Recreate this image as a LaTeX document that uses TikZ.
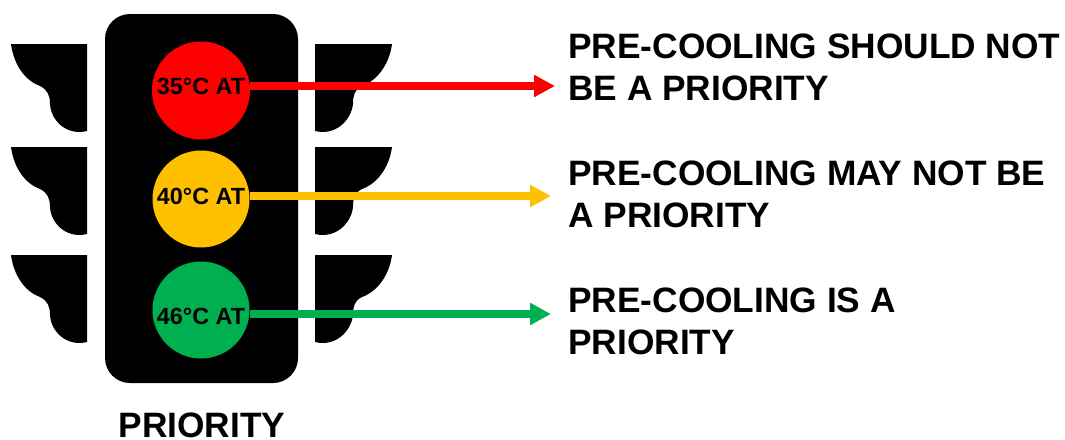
\documentclass[tikz,border=0pt]{standalone}
\usepackage{fontspec}
\setmainfont{Liberation Sans}
\usetikzlibrary{arrows.meta}
\definecolor{tred}{RGB}{255,0,0}
\definecolor{tyel}{RGB}{255,192,0}
\definecolor{tgrn}{RGB}{0,176,80}
\tikzset{
  lampc/.style={circle,minimum size=#1,inner sep=0pt},
  lamplabel/.style={font=\bfseries\fontsize{23.4}{26}\selectfont,text=black,inner sep=0pt},
  msg/.style={font=\bfseries\fontsize{35.3}{42}\selectfont,text=black,anchor=north west,inner sep=0pt,align=left},
  conn/.style={line width=8pt,-{Triangle[length=21pt,width=21pt]}},
}
\begin{document}
\begin{tikzpicture}[x=1pt,y=-1pt]
\useasboundingbox (0,0) rectangle (1065,439);
% wings
\foreach \y in {44,147,255} {
  \begin{scope}[shift={(87,\y)},xscale=-1]
    \fill (0,0) -- (76,0) .. controls (73,22) and (61,37) .. (47,42) .. controls (39,46) and (37,52) .. (37,60) .. controls (36,77) and (20,92) .. (0,87) -- cycle;
  \end{scope}
  \begin{scope}[shift={(315,\y)}]
    \fill (0,0) -- (77,0) .. controls (74,22) and (61,37) .. (47,42) .. controls (39,46) and (38,52) .. (38,60) .. controls (36,77) and (20,92) .. (0,87) -- cycle;
  \end{scope}
}
\node[fill=black,rounded corners=25pt,minimum width=193pt,minimum height=369pt,inner sep=0pt] (body) at (201.5,198.5) {};
\node[lampc=98pt,fill=tred] (r) at (201,90.5) {};
\node[lampc=97pt,fill=tyel] (y) at (201,199) {};
\node[lampc=97pt,fill=tgrn] (g) at (201,310) {};
\node[lamplabel] (lr) at (201,86) {35°C AT};
\node[lamplabel] (ly) at (201,196) {40°C AT};
\node[lamplabel] (lg) at (201,316) {46°C AT};
\coordinate (tr) at (555,86);
\coordinate (ty) at (551,196);
\coordinate (tg) at (551,314);
\draw[conn,tred] (r.east |- tr) -- (tr);
\draw[conn,tyel] (y.east |- ty) -- (ty);
\draw[conn,tgrn] (g.east |- tg) -- (tg);
\node[msg] (m1) at (568,33.5) {PRE-COOLING SHOULD NOT\\BE A PRIORITY};
\node[msg] (m2) at (568,161) {PRE-COOLING MAY NOT BE\\A PRIORITY};
\node[msg] (m3) at (568,288) {PRE-COOLING IS A\\PRIORITY};
\node[font=\bfseries\fontsize{35.3}{38}\selectfont,inner sep=0pt] (p) at (202,425) {PRIORITY};
\end{tikzpicture}
\end{document}
